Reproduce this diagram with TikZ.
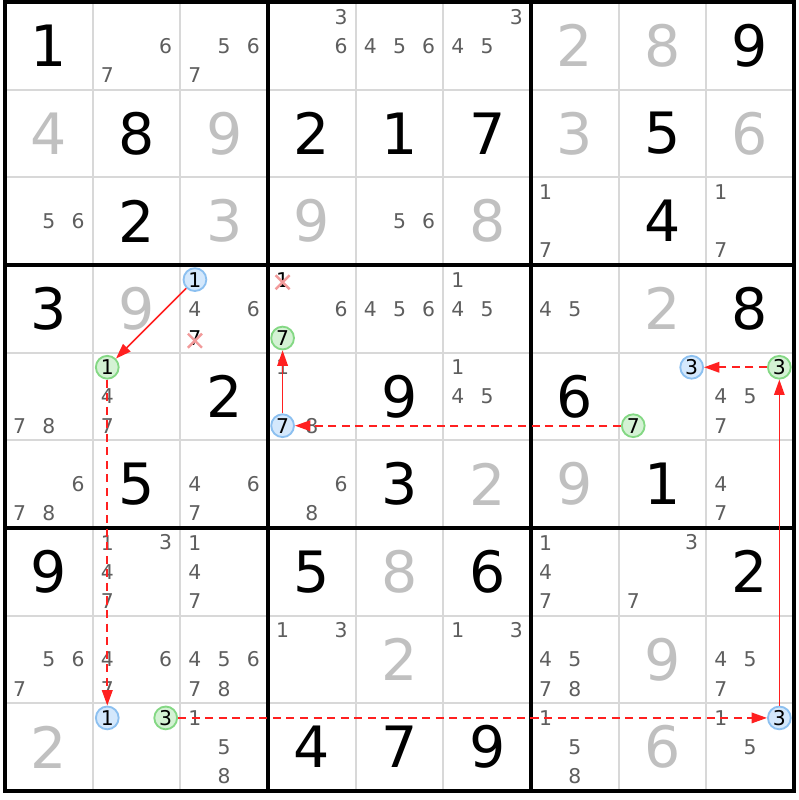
\documentclass[tikz,border=0pt]{standalone}
\usepackage{fontspec}
\setmainfont{DejaVu Sans}
\usetikzlibrary{arrows.meta, positioning}
\definecolor{gridgray}{HTML}{D8D8D8}
\definecolor{solvedgray}{HTML}{C0C0C0}
\definecolor{candgray}{HTML}{5E5E5E}
\definecolor{bluefill}{HTML}{D4E8FC}
\definecolor{blueedge}{HTML}{8CC0F0}
\definecolor{greenfill}{HTML}{D4F2D4}
\definecolor{greenedge}{HTML}{84D884}
\definecolor{linkred}{HTML}{FF2020}
\definecolor{crosspink}{HTML}{F29A9A}

\begin{document}
\begin{tikzpicture}[x=1cm, y=1cm,
    given/.style={font=\fontsize{18.5}{18.5}\selectfont, text=black, inner sep=0pt},
    solved/.style={given, text=solvedgray},
    cand/.style={font=\fontsize{6.6}{6.6}\selectfont, text=candgray, inner sep=0pt},
    incell/.style args={#1/#2/#3}{shift={({#2-0.5+(mod(#3-1,3)-1)/3},{9.5-#1-(int((#3-1)/3)-1)/3})}},
    marked/.style={cand, text=black, circle, minimum size=0.26cm, line width=0.6pt},
    bluecand/.style={marked, draw=blueedge, fill=bluefill},
    greencand/.style={marked, draw=greenedge, fill=greenfill},
    thinline/.style={gridgray, line width=0.65pt},
    boxline/.style={black, line width=1pt},
    solidlink/.style={linkred, line width=0.5pt, -{Triangle[length=5pt,width=3.4pt]}},
    dashlink/.style={linkred, line width=0.65pt, dash pattern=on 2.6pt off 1.8pt, -{Triangle[length=5pt,width=3.4pt]}},
    xmark/.style={crosspink, line width=0.8pt}]

  \fill[white] (-0.057,-0.103) rectangle (9.057,9.023);
  \useasboundingbox (-0.057,-0.103) rectangle (9.057,9.023);

  % grid
  \foreach \i in {1,2,4,5,7,8} {
    \draw[thinline] (\i,0) -- (\i,9);
    \draw[thinline] (0,\i) -- (9,\i);
  }
  \foreach \i in {3,6} {
    \draw[boxline] (\i,0) -- (\i,9);
    \draw[boxline] (0,\i) -- (9,\i);
  }
  \draw[boxline] (0,0) rectangle (9,9);

  % given digits
  \foreach \r/\c/\d in {1/1/1, 1/9/9, 2/2/8, 2/4/2, 2/5/1, 2/6/7, 2/8/5, 3/2/2, 3/8/4,
      4/1/3, 4/9/8, 5/3/2, 5/5/9, 5/7/6, 6/2/5, 6/5/3, 6/8/1, 7/1/9, 7/4/5, 7/6/6,
      7/9/2, 9/4/4, 9/5/7, 9/6/9}
    \node[given] at (\c-0.5,9.5-\r) {\d};

  % solved digits
  \foreach \r/\c/\d in {1/7/2, 1/8/8, 2/1/4, 2/3/9, 2/7/3, 2/9/6, 3/3/3, 3/4/9, 3/6/8,
      4/2/9, 4/8/2, 6/6/2, 6/7/9, 7/5/8, 8/5/2, 8/8/9, 9/1/2, 9/8/6}
    \node[solved] at (\c-0.5,9.5-\r) {\d};

  % candidates
  \foreach \r/\c/\ds in {1/2/{6,7}, 1/3/{5,6,7}, 1/4/{3,6}, 1/5/{4,5,6}, 1/6/{3,4,5},
      3/1/{5,6}, 3/5/{5,6}, 3/7/{1,7}, 3/9/{1,7},
      4/3/{4,6}, 4/4/{6}, 4/5/{4,5,6}, 4/6/{1,4,5}, 4/7/{4,5},
      5/1/{7,8}, 5/2/{4,7}, 5/4/{1,8}, 5/6/{1,4,5}, 5/9/{4,5,7},
      6/1/{6,7,8}, 6/3/{4,6,7}, 6/4/{6,8}, 6/9/{4,7},
      7/2/{1,3,4,7}, 7/3/{1,4,7}, 7/7/{1,4,7}, 7/8/{3,7},
      8/1/{5,6,7}, 8/2/{4,6,7}, 8/3/{4,5,6,7,8}, 8/4/{1,3}, 8/6/{1,3},
      8/7/{4,5,7,8}, 8/9/{4,5,7},
      9/3/{1,5,8}, 9/7/{1,5,8}, 9/9/{1,5}}
    \foreach \d in \ds
      \node[cand, incell=\r/\c/\d] {\d};

  % eliminated candidates
  \node[cand, text=black, incell=4/3/7] (r4c3x7) {7};
  \node[cand, text=black, incell=4/4/1] (r4c4x1) {1};
  \foreach \n in {r4c3x7, r4c4x1}
    \draw[xmark] (\n.center) +(-0.08,-0.11) -- +(0.08,0.05)
                             +(-0.08,0.05) -- +(0.08,-0.11);

  % chain
  \node[bluecand, incell=4/3/1] (r4c3n1) {1};
  \node[greencand, incell=5/2/1] (r5c2n1) {1};
  \node[bluecand, incell=9/2/1] (r9c2n1) {1};
  \node[greencand, incell=9/2/3] (r9c2n3) {3};
  \node[bluecand, incell=9/9/3] (r9c9n3) {3};
  \node[greencand, incell=5/9/3] (r5c9n3) {3};
  \node[bluecand, incell=5/8/3] (r5c8n3) {3};
  \node[greencand, incell=5/8/7] (r5c8n7) {7};
  \node[bluecand, incell=5/4/7] (r5c4n7) {7};
  \node[greencand, incell=4/4/7] (r4c4n7) {7};

  \path (r4c3n1) edge[solidlink] (r5c2n1)
        (r5c2n1) edge[dashlink] (r9c2n1)
        (r9c2n3) edge[dashlink] (r9c9n3)
        (r9c9n3) edge[solidlink] (r5c9n3)
        (r5c9n3) edge[dashlink] (r5c8n3)
        (r5c8n7) edge[dashlink] (r5c4n7)
        (r5c4n7) edge[solidlink] (r4c4n7);
\end{tikzpicture}
\end{document}
